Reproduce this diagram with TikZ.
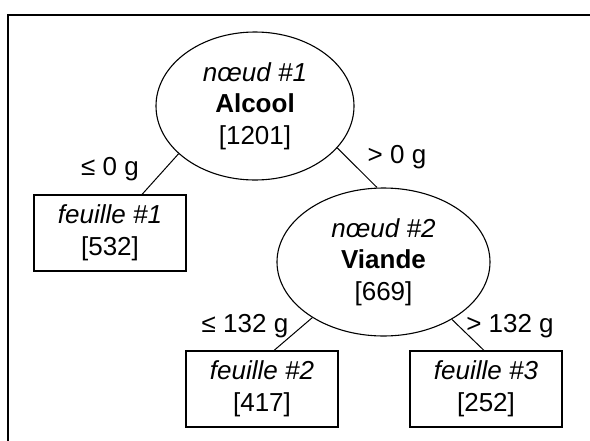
\documentclass[tikz,border=0pt]{standalone}
\usepackage{fontspec}
\setmainfont{Liberation Sans}
\usetikzlibrary{shapes.geometric}

\tikzset{
  split/.style={ellipse, draw, line width=1.1pt, inner sep=0pt, align=center,
    minimum height=148pt},
  leaf/.style={rectangle, draw, line width=1.1pt, inner sep=0pt, align=center,
    minimum width=152pt, minimum height=76pt},
  cond/.style={anchor=base, inner sep=0pt},
  branch/.style={line width=1pt},
}

\begin{document}
\begin{tikzpicture}[x=1pt, y=-1pt, font=\fontsize{26}{31.5}\selectfont]
  \useasboundingbox (0,0) rectangle (590,440);
  \clip (0,0) rectangle (590,440);
  \fill[white] (0,0) rectangle (590,440);

  % frame, open to the right and bottom
  \draw[line width=2pt] (8,15) rectangle (620,470);

  % decision nodes
  \node[split, minimum width=198pt] (root) at (255,106)
    {\textit{nœud \#1}\\\textbf{Alcool}\\{}[1201]};
  \node[split, minimum width=213pt] (viande) at (383.5,262)
    {\textit{nœud \#2}\\\textbf{Viande}\\{}[669]};

  % leaves
  \node[leaf] (f1) at (110,233) {\textit{feuille \#1}\\{}[532]};
  \node[leaf] (f2) at (262,389) {\textit{feuille \#2}\\{}[417]};
  \node[leaf] (f3) at (486,389) {\textit{feuille \#3}\\{}[252]};

  % branches
  \draw[branch] (root.212.8) -- ([xshift=32pt]f1.north);
  \draw[branch] (root.-27.7) -- ([xshift=-6.5pt]viande.north);
  \draw[branch] (viande.218.9) -- ([xshift=12pt]f2.north);
  \draw[branch] (viande.-40.6) -- ([xshift=-2pt]f3.north);

  % split conditions
  \node[cond] (c1) at (110,175) {≤ 0 g};
  \node[cond] (c2) at (397,163) {> 0 g};
  \node[cond] (c3) at (245,332) {≤ 132 g};
  \node[cond] (c4) at (510,332) {> 132 g};
\end{tikzpicture}
\end{document}
